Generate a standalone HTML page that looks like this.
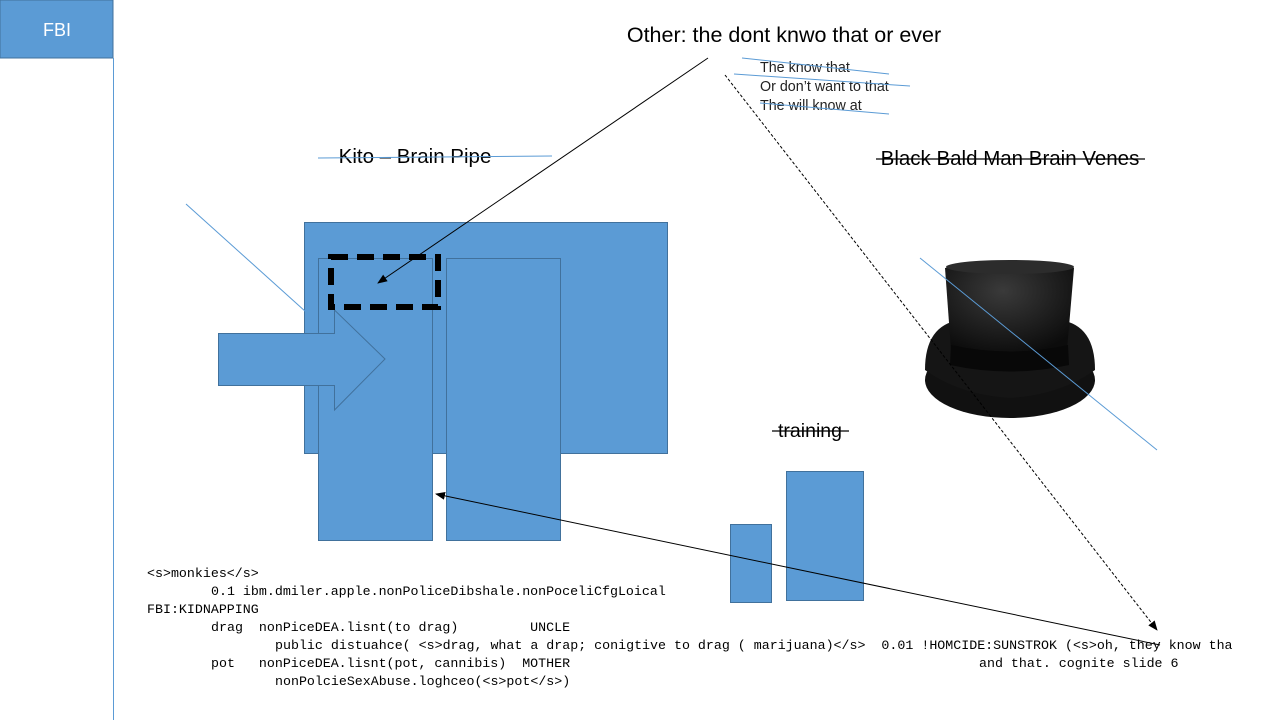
<!DOCTYPE html>
<html><head><meta charset="utf-8"><style>
html,body{margin:0;padding:0;background:#fff;width:1280px;height:720px;overflow:hidden}
svg{display:block}
.code text{white-space:pre}
</style></head><body>
<svg width="1280" height="720" xmlns="http://www.w3.org/2000/svg" font-family="Liberation Sans, sans-serif">
<defs>
<marker id="ah" markerWidth="10" markerHeight="8" refX="9" refY="4" orient="auto" markerUnits="userSpaceOnUse"><path d="M0,0 L10,4 L0,8 z" fill="#000"/></marker>
<radialGradient id="hg" cx="0.45" cy="0.3" r="0.7"><stop offset="0" stop-color="#3a3a3a"/><stop offset="1" stop-color="#0c0c0c"/></radialGradient>
</defs>
<rect x="0" y="0" width="113" height="58" fill="#5b9bd5" stroke="#41719c"/>
<text x="57" y="36" font-size="18" fill="#fff" text-anchor="middle">FBI</text>
<line x1="113.5" y1="58" x2="113.5" y2="720" stroke="#5b9bd5" stroke-width="1"/>

<text x="784" y="42" font-size="21.5" text-anchor="middle" fill="#000">Other: the dont knwo that or ever</text>
<text x="760" y="72" font-size="14.3" fill="#222">The know that</text>
<text x="760" y="91" font-size="14.3" fill="#222">Or don’t want to that</text>
<text x="760" y="110" font-size="14.3" fill="#222">The will know at</text>
<line x1="742" y1="58" x2="889" y2="74" stroke="#5b9bd5"/>
<line x1="734" y1="74" x2="910" y2="86" stroke="#5b9bd5"/>
<line x1="760" y1="103" x2="889" y2="114" stroke="#5b9bd5"/>

<text x="415" y="163" font-size="20.5" text-anchor="middle" fill="#000">Kito – Brain Pipe</text>
<line x1="318" y1="158" x2="552" y2="156" stroke="#5b9bd5"/>

<text x="1010" y="165" font-size="20.5" text-anchor="middle" fill="#000">Black Bald Man Brain Venes</text>
<line x1="876" y1="159" x2="1145" y2="159" stroke="#000" stroke-width="1.2"/>

<text x="810" y="437" font-size="19.5" text-anchor="middle" fill="#000">training</text>
<line x1="772" y1="431" x2="849" y2="431" stroke="#000" stroke-width="1.2"/>

<rect x="304.5" y="222.5" width="363" height="231" fill="#5b9bd5" stroke="#41719c"/>
<rect x="318.5" y="258.5" width="114" height="282" fill="#5b9bd5" stroke="#41719c"/>
<rect x="446.5" y="258.5" width="114" height="282" fill="#5b9bd5" stroke="#41719c"/>
<polygon points="218.5,333.5 334.5,333.5 334.5,310 385,359 334.5,410 334.5,385.5 218.5,385.5" fill="#5b9bd5" stroke="#41719c"/>
<rect x="331" y="257" width="107" height="50" fill="none" stroke="#000" stroke-width="6" stroke-dasharray="17,9"/>
<line x1="186" y1="204" x2="306" y2="312" stroke="#5b9bd5"/>

<rect x="730.5" y="524.5" width="41" height="78" fill="#5b9bd5" stroke="#41719c"/>
<rect x="786.5" y="471.5" width="77" height="129" fill="#5b9bd5" stroke="#41719c"/>

<ellipse cx="1010" cy="380" rx="85" ry="38" fill="#111"/>
<path d="M925,370 Q925,325 960,320 L1060,320 Q1095,325 1095,370 Q1060,395 1010,398 Q960,395 925,370 z" fill="#151515"/>
<path d="M945,268 Q1010,258 1074,268 L1067,350 Q1010,362 951,350 z" fill="url(#hg)"/>
<ellipse cx="1010" cy="267" rx="64" ry="7" fill="#2c2c2c"/>
<path d="M951,345 Q1010,358 1068,345 L1069,365 Q1010,378 950,365 z" fill="#080808"/>
<line x1="920" y1="258" x2="1157" y2="450" stroke="#5b9bd5"/>

<line x1="708" y1="58" x2="378" y2="283" stroke="#000" stroke-width="1" marker-end="url(#ah)"/>
<line x1="725" y1="75" x2="1157" y2="630" stroke="#000" stroke-width="1" stroke-dasharray="3,2" marker-end="url(#ah)"/>
<line x1="1160" y1="645" x2="436" y2="494" stroke="#000" stroke-width="1" marker-end="url(#ah)"/>

<g class="code" font-family="Liberation Mono, monospace" font-size="13.3" fill="#000">
<text x="147" y="577">&lt;s&gt;monkies&lt;/s&gt;</text>
<text x="211" y="595">0.1 ibm.dmiler.apple.nonPoliceDibshale.nonPoceliCfgLoical</text>
<text x="147" y="613">FBI:KIDNAPPING</text>
<text x="211" y="631">drag  nonPiceDEA.lisnt(to drag)         UNCLE</text>
<text x="275" y="649">public distuahce( &lt;s&gt;drag, what a drap; conigtive to drag ( marijuana)&lt;/s&gt;  0.01 !HOMCIDE:SUNSTROK (&lt;s&gt;oh, they know tha</text>
<text x="211" y="667">pot   nonPiceDEA.lisnt(pot, cannibis)  MOTHER</text>
<text x="979" y="667">and that. cognite slide 6</text>
<text x="275" y="685">nonPolcieSexAbuse.loghceo(&lt;s&gt;pot&lt;/s&gt;)</text>
</g>
</svg>
</body></html>
